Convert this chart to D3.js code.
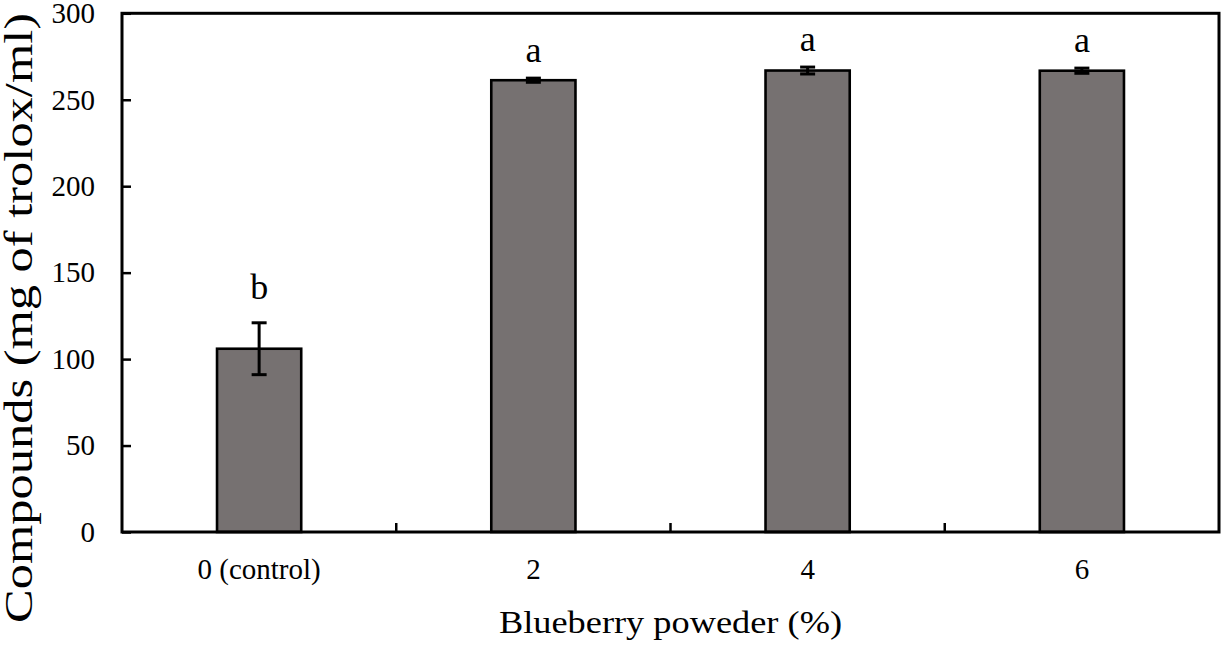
<!DOCTYPE html>
<html>
<head>
<meta charset="utf-8">
<script src="https://cdn.jsdelivr.net/npm/d3@7/dist/d3.min.js"></script>
<style>
  html, body { margin: 0; padding: 0; background: #fff; }
  svg { display: block; }
  text { font-family: "Liberation Serif", "Times New Roman", serif; fill: #000; }
</style>
</head>
<body>
<svg id="chart" width="1221" height="648"></svg>
<script>
// ---- data ----
const categories = ["0 (control)", "2", "4", "6"];
const values = [106, 261.3, 266.9, 266.8];
const errors = [15, 1.2, 2, 1.5];
const letters = ["b", "a", "a", "a"];
const yTicks = [0, 50, 100, 150, 200, 250, 300];
const xTitle = "Blueberry poweder (%)";
const yTitle = "Compounds (mg of trolox/ml)";

// ---- layout ----
const svg = d3.select("#chart");
const L = 122, R = 1219, T = 13.3, B = 532;

const x = d3.scaleBand().domain(categories).range([L, R]).paddingInner(0.693).paddingOuter(0.3465);
const step = (R - L) / categories.length;
const y = d3.scaleLinear().domain([0, 300]).range([B, T]);

// bars
svg.append("g").selectAll("rect").data(values).join("rect")
  .attr("x", (d, i) => x(categories[i]))
  .attr("y", d => y(d))
  .attr("width", x.bandwidth())
  .attr("height", d => y(0) - y(d))
  .attr("fill", "#767171")
  .attr("stroke", "#000")
  .attr("stroke-width", 2.6);

// error bars
const eg = svg.append("g").attr("stroke", "#000").attr("stroke-width", 3);
values.forEach((v, i) => {
  const cx = x(categories[i]) + x.bandwidth() / 2;
  eg.append("line").attr("x1", cx).attr("x2", cx).attr("y1", y(v + errors[i])).attr("y2", y(v - errors[i]));
  eg.append("line").attr("x1", cx - 7.5).attr("x2", cx + 7.5).attr("y1", y(v + errors[i])).attr("y2", y(v + errors[i]));
  eg.append("line").attr("x1", cx - 7.5).attr("x2", cx + 7.5).attr("y1", y(v - errors[i])).attr("y2", y(v - errors[i]));
});

// significance letters
svg.append("g").selectAll("text").data(letters).join("text")
  .attr("x", (d, i) => x(categories[i]) + x.bandwidth() / 2)
  .attr("y", (d, i) => y(values[i] + errors[i]) - (i === 0 ? 24 : 16))
  .attr("text-anchor", "middle")
  .attr("font-size", 36)
  .text(d => d);

// y axis
const yAxis = d3.axisLeft(y).tickValues(yTicks).tickSize(-9).tickPadding(27).tickFormat(d3.format("d"));
const yg = svg.append("g").attr("transform", `translate(${L},0)`).call(yAxis);
yg.select(".domain").remove();
yg.selectAll(".tick line").attr("stroke", "#000").attr("stroke-width", 2.5);
yg.selectAll(".tick text").attr("font-family", "Liberation Serif").attr("font-size", 29).attr("fill", "#000");

// x axis ticks at category boundaries
const xBounds = d3.range(1, categories.length).map(i => L + step * i);
svg.append("g").selectAll("line").data(xBounds).join("line")
  .attr("x1", d => d).attr("x2", d => d).attr("y1", B).attr("y2", B - 9)
  .attr("stroke", "#000").attr("stroke-width", 2.5);

// x category labels
svg.append("g").selectAll("text").data(categories).join("text")
  .attr("x", d => x(d) + x.bandwidth() / 2)
  .attr("y", 579)
  .attr("text-anchor", "middle")
  .attr("font-size", 29)
  .text(d => d);

// frame
svg.append("rect").attr("x", L).attr("y", T).attr("width", R - L).attr("height", B - T)
  .attr("fill", "none").attr("stroke", "#000").attr("stroke-width", 3);

// titles
svg.append("text").attr("x", (L + R) / 2).attr("y", 633).attr("text-anchor", "middle")
  .attr("font-size", 31).attr("textLength", 343).attr("lengthAdjust", "spacingAndGlyphs")
  .text(xTitle);

svg.append("text").attr("transform", `translate(32,318) rotate(-90)`)
  .attr("text-anchor", "middle").attr("font-size", 40)
  .attr("textLength", 610).attr("lengthAdjust", "spacingAndGlyphs")
  .text(yTitle);
</script>
</body>
</html>
